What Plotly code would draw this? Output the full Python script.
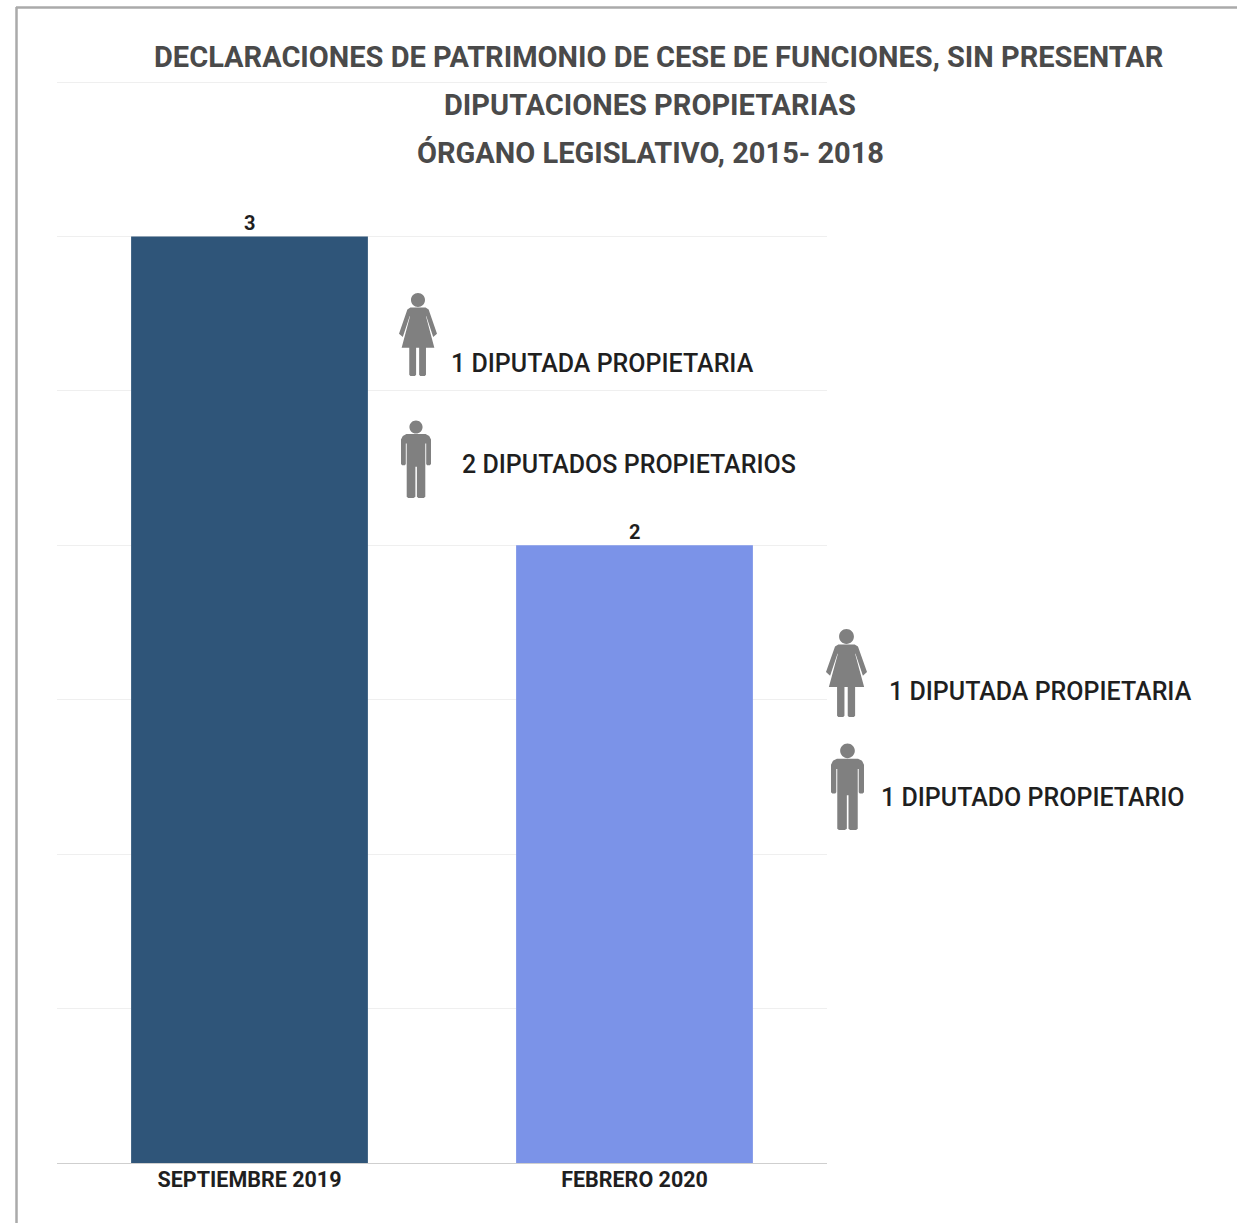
import plotly.graph_objects as go

categories = ["SEPTIEMBRE 2019", "FEBRERO 2020"]
values = [3, 2]
bar_colors = ["#2f5579", "#7b93e8"]
title_lines = [
    "DECLARACIONES DE PATRIMONIO DE CESE DE FUNCIONES, SIN PRESENTAR",
    "DIPUTACIONES PROPIETARIAS",
    "ÓRGANO LEGISLATIVO, 2015- 2018",
]
title_pos = [(658, 57), (650, 105), (650, 153)]
notes = ["1 DIPUTADA PROPIETARIA", "2 DIPUTADOS PROPIETARIOS", "1 DIPUTADA PROPIETARIA", "1 DIPUTADO PROPIETARIO"]
note_pos = [(602.5, 363.5), (629, 464.5), (1040, 691.5), (1033, 797)]
woman_boxes = [(399, 293, 38, 83), (826, 629, 41, 88)]
man_boxes = [(401, 420, 30, 78), (831, 743, 33, 87)]

W, H = 1237, 1223
ML, MR, MT, MB = 57, 410, 80, 60
FONT = "Roboto"


def px(x):
    return (x - ML) / (W - ML - MR)


def py(y):
    return 1 - (y - MT) / (H - MT - MB)


def path_of(box, subpaths):
    x0, y0, w, h = box
    out = []
    for sub in subpaths:
        s = ""
        for cmd, pts in sub:
            s += cmd + " ".join(f"{px(x0 + a * w):.5f},{py(y0 + b * h):.5f}" for a, b in pts)
        out.append(s + "Z")
    return " ".join(out)


def head(cx, cy, box):
    x0, y0, w, h = box
    r = 7.0 * h / 83
    rx, ry = r / w, r / h
    k = 0.5523
    return [
        ("M", [(cx - rx, cy)]),
        ("C", [(cx - rx, cy - k * ry), (cx - k * rx, cy - ry), (cx, cy - ry)]),
        ("C", [(cx + k * rx, cy - ry), (cx + rx, cy - k * ry), (cx + rx, cy)]),
        ("C", [(cx + rx, cy + k * ry), (cx + k * rx, cy + ry), (cx, cy + ry)]),
        ("C", [(cx - k * rx, cy + ry), (cx - rx, cy + k * ry), (cx - rx, cy)]),
    ]


def poly(points):
    return [("M", [points[0]])] + [("L", [p]) for p in points[1:]]


def woman(box):
    dress = poly([
        (0.30, 0.175), (0.70, 0.175), (0.78, 0.20), (1.0, 0.49), (0.90, 0.53), (0.72, 0.28), (0.71, 0.28),
        (0.93, 0.66), (0.07, 0.66), (0.29, 0.28), (0.28, 0.28), (0.10, 0.53), (0.0, 0.49), (0.22, 0.20),
    ])
    leg1 = poly([(0.27, 0.66), (0.45, 0.66), (0.45, 0.985), (0.42, 1.0), (0.30, 1.0), (0.27, 0.985)])
    leg2 = poly([(0.53, 0.66), (0.71, 0.66), (0.71, 0.985), (0.68, 1.0), (0.56, 1.0), (0.53, 0.985)])
    return path_of(box, [head(0.5, 0.085, box), dress, leg1, leg2])


def man(box):
    body = poly([
        (0.06, 0.205), (0.18, 0.18), (0.82, 0.18), (0.94, 0.205), (1.0, 0.25), (1.0, 0.565), (0.96, 0.58), (0.87, 0.58),
        (0.84, 0.565), (0.84, 0.30), (0.81, 0.30), (0.81, 0.985), (0.76, 1.0), (0.58, 1.0), (0.53, 0.985), (0.53, 0.60),
        (0.48, 0.60), (0.48, 0.985), (0.42, 1.0), (0.24, 1.0), (0.19, 0.985), (0.19, 0.30), (0.16, 0.30),
        (0.16, 0.565), (0.13, 0.58), (0.04, 0.58), (0.0, 0.565), (0.0, 0.25),
    ])
    return path_of(box, [head(0.5, 0.09, box), body])


fig = go.Figure(
    go.Bar(
        x=categories,
        y=values,
        marker=dict(color=bar_colors, line=dict(width=0)),
        hoverinfo="skip",
    )
)

shapes = [
    dict(type="line", xref="paper", yref="paper", x0=px(16.5), x1=px(16.5), y0=py(7), y1=py(H), line=dict(color="#aaaaaa", width=2.5)),
    dict(type="line", xref="paper", yref="paper", x0=px(16), x1=px(W), y0=py(7.5), y1=py(7.5), line=dict(color="#aaaaaa", width=2.5)),
]
for b in woman_boxes:
    shapes.append(dict(type="path", xref="paper", yref="paper", path=woman(b), fillcolor="#808080", line=dict(width=0)))
for b in man_boxes:
    shapes.append(dict(type="path", xref="paper", yref="paper", path=man(b), fillcolor="#808080", line=dict(width=0)))

annotations = []
for t, (x, y) in zip(title_lines, title_pos):
    annotations.append(dict(text=t, xref="paper", yref="paper", x=px(x), y=py(y), xanchor="center", yanchor="middle",
                            showarrow=False, font=dict(family=FONT, size=29, color="#4a4a4a", weight=700)))
for t, (x, y) in zip(notes, note_pos):
    annotations.append(dict(text=t, xref="paper", yref="paper", x=px(x), y=py(y), xanchor="center", yanchor="middle",
                            showarrow=False, font=dict(family=FONT, size=25, color="#1f1f1f", weight=500)))
for c, v in zip(categories, values):
    annotations.append(dict(text=str(v), xref="x", yref="y", x=c, y=v, xanchor="center", yanchor="bottom", yshift=0,
                            showarrow=False, borderpad=0, font=dict(family=FONT, size=20, color="#1f1f1f", weight=700)))

fig.update_layout(
    width=W,
    height=H,
    autosize=False,
    margin=dict(l=ML, r=MR, t=MT, b=MB, pad=0),
    paper_bgcolor="white",
    plot_bgcolor="white",
    showlegend=False,
    bargap=0.385,
    shapes=shapes,
    annotations=annotations,
    xaxis=dict(
        type="category",
        showgrid=False,
        showline=True,
        linecolor="#cfcfcf",
        linewidth=1,
        ticks="",
        ticklabelstandoff=-3,
        tickfont=dict(family=FONT, size=21.5, color="#1f1f1f", weight=700),
    ),
    yaxis=dict(
        range=[0, 3.5065],
        dtick=0.5,
        showticklabels=False,
        showgrid=True,
        gridcolor="#efefef",
        gridwidth=1,
        zeroline=False,
        ticks="",
    ),
)
fig.write_html(
    "out.html",
    config={"displayModeBar": False},
    post_script="document.documentElement.style.overflow='hidden';document.body.style.margin='0';",
)
